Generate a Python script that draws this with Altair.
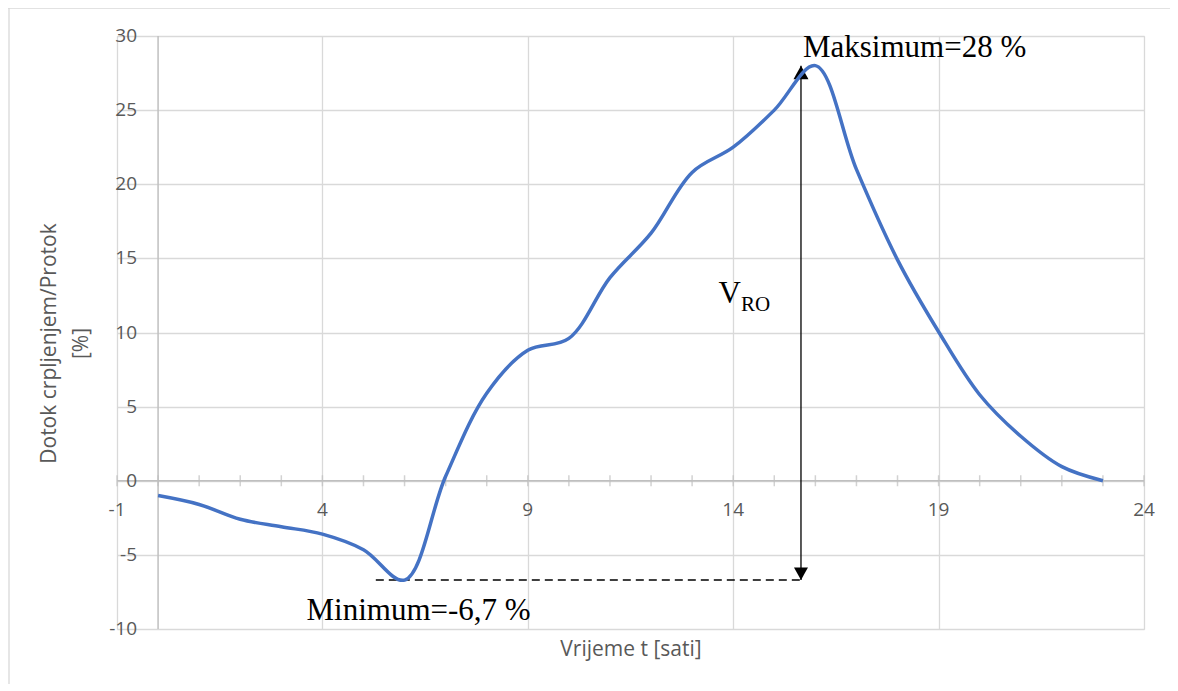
import altair as alt
import pandas as pd

# ---- data ----
hours = list(range(0, 24))
inflow = [-1.0, -1.6, -2.6, -3.1, -3.6, -4.65, -6.7, 0.3, 5.9, 8.8, 9.6, 13.7,
          16.7, 20.8, 22.5, 25.0, 28.0, 21.0, 14.9, 10.05, 5.8, 3.0, 0.95, 0.0]

x_major = [-1, 4, 9, 14, 19, 24]
x_minor = list(range(-1, 25))
y_ticks = [-10, -5, 0, 5, 10, 15, 20, 25, 30]

min_val = -6.7
max_val = 28.0
min_hour = 6
arrow_x = 15.65
dash_x = [5.3, 15.65]
vro_y = 10.65

W, H = 1027, 593
xs = alt.Scale(domain=[-1, 24], nice=False, zero=False)
ys = alt.Scale(domain=[-10, 30], nice=False, zero=False)

FONT = "Open Sans"
SERIF = "Liberation Serif"
GRAY = "#595959"
GRID = "#d9d9d9"
AXIS = "#bfbfbf"

df = pd.DataFrame({"t": hours, "v": inflow})

base = alt.Chart(df)

# gridlines + axis titles
grid = base.mark_line(opacity=0).encode(
    x=alt.X("t:Q", scale=xs, axis=alt.Axis(values=x_major, grid=True, gridColor=GRID, gridWidth=1.3,
                                            labels=False, ticks=False, domain=False,
                                            title="Vrijeme t [sati]", titleFont=FONT, titleFontSize=21,
                                            titleFontWeight="normal", titleColor=GRAY, titlePadding=9)),
    y=alt.Y("v:Q", scale=ys, axis=alt.Axis(values=y_ticks, grid=True, gridColor=GRID, gridWidth=1.3,
                                            labels=False, ticks=False, domain=False,
                                            title=["Dotok crpljenjem/Protok", "[%]"], titleFont=FONT,
                                            titleFontSize=21, titleFontWeight="normal", titleColor=GRAY,
                                            titleX=-58, titleY=307, titleAlign="center",
                                            titleLineHeight=32)),
)

# x axis line at y=0 and y axis line at x=0
xline_df = pd.DataFrame({"x1": [x_minor[0]], "x2": [x_minor[-1]], "y": [0]})
xline = alt.Chart(xline_df).mark_rule(color=AXIS, strokeWidth=1.5).encode(
    x=alt.X("x1:Q", scale=xs), x2="x2:Q", y=alt.Y("y:Q", scale=ys))
yline_df = pd.DataFrame({"x": [0], "y1": [y_ticks[0]], "y2": [y_ticks[-1]]})
yline = alt.Chart(yline_df).mark_rule(color=AXIS, strokeWidth=1.5).encode(
    x=alt.X("x:Q", scale=xs), y=alt.Y("y1:Q", scale=ys), y2="y2:Q")

ticks_df = pd.DataFrame({"x": x_minor, "y": [0] * len(x_minor)})
ticks = alt.Chart(ticks_df).mark_tick(orient="vertical", size=11, thickness=1.5, color=AXIS).encode(
    x=alt.X("x:Q", scale=xs), y=alt.Y("y:Q", scale=ys))

xlab_df = pd.DataFrame({"x": x_major, "y": [0] * len(x_major), "lab": [str(v) for v in x_major]})
xlabels = alt.Chart(xlab_df).mark_text(font=FONT, fontSize=19, color=GRAY, baseline="middle",
                                       align="center", dy=29).encode(
    x=alt.X("x:Q", scale=xs), y=alt.Y("y:Q", scale=ys), text="lab:N")

ylab_df = pd.DataFrame({"x": [0] * len(y_ticks), "y": y_ticks, "lab": [str(v) for v in y_ticks]})
ylabels = alt.Chart(ylab_df).mark_text(font=FONT, fontSize=19, color=GRAY, baseline="middle",
                                       align="right", dx=-21).encode(
    x=alt.X("x:Q", scale=xs), y=alt.Y("y:Q", scale=ys), text="lab:N")

curve = base.mark_line(color="#4472C4", strokeWidth=3.5, interpolate="catmull-rom").encode(
    x=alt.X("t:Q", scale=xs), y=alt.Y("v:Q", scale=ys))

# dashed minimum line
dash_df = pd.DataFrame({"x1": [dash_x[0]], "x2": [dash_x[1]], "y": [min_val]})
dash = alt.Chart(dash_df).mark_rule(color="black", strokeWidth=1.5, strokeDash=[8, 5]).encode(
    x=alt.X("x1:Q", scale=xs), x2="x2:Q", y=alt.Y("y:Q", scale=ys))

# vertical double arrow
arr_df = pd.DataFrame({"x": [arrow_x], "y1": [min_val], "y2": [max_val]})
arrow = alt.Chart(arr_df).mark_rule(color="black", strokeWidth=1.3).encode(
    x=alt.X("x:Q", scale=xs), y=alt.Y("y1:Q", scale=ys), y2="y2:Q")
head_up = alt.Chart(pd.DataFrame({"x": [arrow_x], "y": [max_val]})).mark_point(
    shape="M0,0L-1,1.8L1,1.8Z", size=225, filled=True, color="black", opacity=1, strokeWidth=0).encode(
    x=alt.X("x:Q", scale=xs), y=alt.Y("y:Q", scale=ys))
head_dn = alt.Chart(pd.DataFrame({"x": [arrow_x], "y": [min_val]})).mark_point(
    shape="M0,0L-1,-1.8L1,-1.8Z", size=196, filled=True, color="black", opacity=1, strokeWidth=0).encode(
    x=alt.X("x:Q", scale=xs), y=alt.Y("y:Q", scale=ys))

# annotations
max_txt = alt.Chart(pd.DataFrame({"x": [arrow_x], "y": [max_val], "lab": ["Maksimum=28 %"]})).mark_text(
    font=SERIF, fontSize=31, color="black", align="left", baseline="alphabetic", dx=2, dy=-9).encode(
    x=alt.X("x:Q", scale=xs), y=alt.Y("y:Q", scale=ys), text="lab:N")
min_txt = alt.Chart(pd.DataFrame({"x": [min_hour], "y": [min_val], "lab": ["Minimum=-6,7 %"]})).mark_text(
    font=SERIF, fontSize=31, color="black", align="center", baseline="alphabetic", dx=14, dy=40).encode(
    x=alt.X("x:Q", scale=xs), y=alt.Y("y:Q", scale=ys), text="lab:N")
v_txt = alt.Chart(pd.DataFrame({"x": [arrow_x], "y": [vro_y], "lab": ["V"]})).mark_text(
    font=SERIF, fontSize=31, color="black", align="right", baseline="alphabetic", dx=-60, dy=-20).encode(
    x=alt.X("x:Q", scale=xs), y=alt.Y("y:Q", scale=ys), text="lab:N")
ro_txt = alt.Chart(pd.DataFrame({"x": [arrow_x], "y": [vro_y], "lab": ["RO"]})).mark_text(
    font=SERIF, fontSize=21, color="black", align="left", baseline="alphabetic", dx=-60, dy=-12).encode(
    x=alt.X("x:Q", scale=xs), y=alt.Y("y:Q", scale=ys), text="lab:N")

# chart-area border (top and left)
border_top = alt.Chart(pd.DataFrame({"a": [0]})).mark_rule(color=GRID, strokeWidth=1.3).encode(
    x=alt.value(-109), x2=alt.value(W + 30), y=alt.value(-28))
border_left = alt.Chart(pd.DataFrame({"a": [0]})).mark_rule(color=GRID, strokeWidth=1.3).encode(
    x=alt.value(-108), y=alt.value(-28), y2=alt.value(H + 60))

chart = alt.layer(
    grid, border_top, border_left, yline, xline, ticks, xlabels, ylabels,
    dash, arrow, head_up, head_dn, curve, max_txt, min_txt, v_txt, ro_txt
).properties(
    width=W, height=H,
    padding={"left": 109, "top": 28, "right": 26, "bottom": 55},
    autosize=alt.AutoSizeParams(type="none"),
).configure_view(stroke=None).configure(background="white")

chart.save("out.html", embed_options={"renderer": "svg", "actions": False})
